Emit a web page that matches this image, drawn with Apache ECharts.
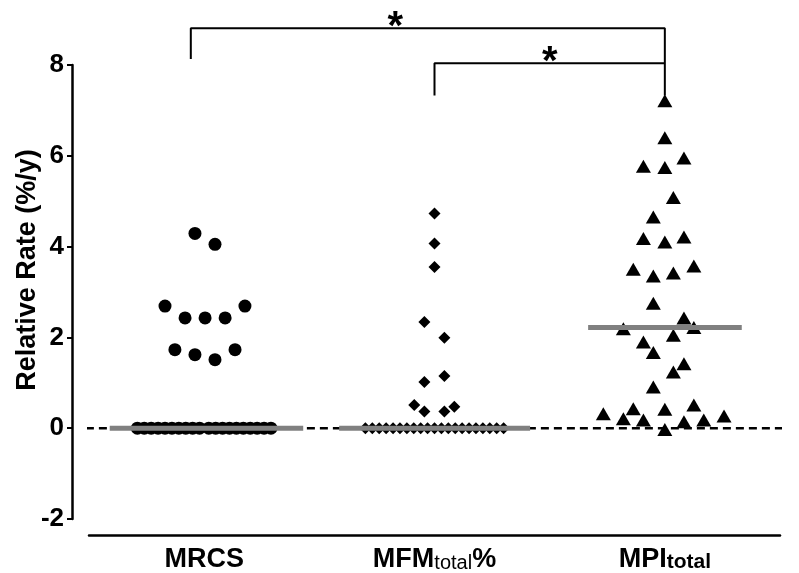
<!DOCTYPE html>
<html>
<head>
<meta charset="utf-8">
<script src="https://cdn.jsdelivr.net/npm/echarts@6/dist/echarts.min.js"></script>
<style>
  html, body { margin: 0; padding: 0; background: #fff; }
  #chart { width: 799px; height: 573px; }
</style>
</head>
<body>
<div id="chart"></div>
<script>
// categories on the x axis (1, 2, 3)
var catMain = ['MRCS', 'MFM', 'MPI'];
var catSub = ['', 'total', 'total'];
var catTail = ['', '%', ''];

// MRCS (circles): x offset from category centre, value
var mrcsDx = [-0.04, 0.047, -0.17, -0.083, 0.004, 0.091, 0.177, -0.127, -0.04, 0.047, 0.134];
var mrcsY = [4.29, 4.05, 2.69, 2.43, 2.43, 2.43, 2.69, 1.73, 1.62, 1.51, 1.73];
// MRCS points sitting on zero
var mrcsZeroDx = [-0.29, -0.26, -0.23, -0.20, -0.17, -0.14, -0.11, -0.08, -0.05, -0.02,
  0.02, 0.05, 0.08, 0.11, 0.14, 0.17, 0.20, 0.23, 0.26, 0.29];

// MFMtotal% (diamonds)
var mfmDx = [0, 0, 0, -0.044, 0.043, -0.044, 0.043, -0.088, -0.044, 0.043, 0.086];
var mfmY = [4.73, 4.07, 3.55, 2.34, 1.99, 1.02, 1.15, 0.51, 0.37, 0.37, 0.47];
var mfmZeroDx = [-0.30, -0.27, -0.24, -0.21, -0.18, -0.15, -0.12, -0.09, -0.06, -0.03, 0,
  0.03, 0.06, 0.09, 0.12, 0.15, 0.18, 0.21, 0.24, 0.27, 0.30];

// MPItotal (triangles)
var mpiDx = [0, 0, -0.093, 0, 0.083, 0.037, -0.05, -0.093, 0, 0.083,
  -0.137, -0.05, 0.037, 0.126, -0.05, 0.083, -0.18, 0.126, 0.037, -0.093,
  -0.05, 0.083, 0.037, -0.05, -0.267, -0.137, 0, 0.126, -0.18, -0.093,
  0.083, 0.169, 0.257, 0];
var mpiY = [7.21, 6.40, 5.77, 5.74, 5.95, 5.08, 4.65, 4.18, 4.10, 4.21,
  3.50, 3.35, 3.42, 3.57, 2.75, 2.43, 2.19, 2.22, 2.05, 1.90,
  1.67, 1.42, 1.24, 0.91, 0.32, 0.43, 0.42, 0.51, 0.21, 0.18,
  0.14, 0.18, 0.27, -0.03];

// median bars (grey)
var medianY = [0, 0, 2.22];
var medianLeft = [-0.41, -0.414, -0.333];
var medianRight = [0.43, 0.415, 0.334];

// dashed reference line at zero
var zeroLineX = [0.43, 3.55];

// significance brackets
var bracket1X = [0.942, 0.942, 3, 3];
var bracket1Y = [8.13, 8.81, 8.81, 7.33];
var bracket2X = [2, 2, 3];
var bracket2Y = [7.33, 8.04, 8.04];
var starX = [1.83, 2.5];
var starY = [8.81, 8.04];

var yTicks = { min: -2, max: 8, step: 2 };

var FONT = 'Liberation Sans';

function pts(cat, dx, ys) {
  return dx.map(function (d, i) { return [cat + d, ys ? ys[i] : 0]; });
}

var dot = { color: '#000', opacity: 1 };
var series = [];

series.push({
  type: 'line', xAxisIndex: 1, clip: false, symbol: 'none', silent: true, z: 1,
  lineStyle: { color: '#000', width: 2.5, type: [8, 5] },
  data: zeroLineX.map(function (x) { return [x, 0]; })
});

series.push({ type: 'scatter', xAxisIndex: 1, symbol: 'circle', symbolSize: 13, z: 2,
  itemStyle: dot, data: pts(1, mrcsDx, mrcsY).concat(pts(1, mrcsZeroDx)) });
series.push({ type: 'scatter', xAxisIndex: 1, symbol: 'diamond', symbolSize: 12, z: 2,
  itemStyle: dot, data: pts(2, mfmDx, mfmY).concat(pts(2, mfmZeroDx)) });
series.push({ type: 'scatter', xAxisIndex: 1, symbol: 'triangle', symbolSize: [15, 13], z: 2,
  itemStyle: dot, data: pts(3, mpiDx, mpiY) });

medianY.forEach(function (m, i) {
  series.push({
    type: 'line', xAxisIndex: 1, clip: false, symbol: 'none', silent: true, z: 3,
    lineStyle: { color: '#808080', width: 5, cap: 'butt' },
    data: [[i + 1 + medianLeft[i], m], [i + 1 + medianRight[i], m]]
  });
});

[[bracket1X, bracket1Y], [bracket2X, bracket2Y]].forEach(function (b) {
  series.push({
    type: 'line', xAxisIndex: 1, clip: false, symbol: 'none', silent: true, z: 3,
    lineStyle: { color: '#000', width: 2 },
    data: b[0].map(function (x, i) { return [x, b[1][i]]; })
  });
});

series.push({
  type: 'scatter', xAxisIndex: 1, clip: false, symbolSize: 0, z: 4,
  itemStyle: dot,
  data: starX.map(function (x, i) { return [x, starY[i]]; }),
  label: {
    show: true, position: 'inside', formatter: '*', offset: [0, 0],
    color: '#000', fontSize: 40, fontWeight: 'bold', fontFamily: FONT
  }
});

var chart = echarts.init(document.getElementById('chart'));
chart.setOption({
  animation: false,
  backgroundColor: '#fff',
  grid: { left: 89, right: 19, top: 65, bottom: 54, outerBoundsMode: 'none', containLabel: false },
  xAxis: [
    {
      type: 'category',
      data: catMain,
      boundaryGap: true,
      offset: 16,
      axisLine: { onZero: false, lineStyle: { color: '#000', width: 2.5 } },
      axisTick: { alignWithLabel: true, length: 4, lineStyle: { color: '#000', width: 2 } },
      splitLine: { show: false },
      axisLabel: {
        margin: 10,
        formatter: function (v, i) {
          var s = '{b|' + catMain[i] + '}';
          if (catSub[i]) s += (i === 2 ? '{sb|' : '{s|') + catSub[i] + '}';
          if (catTail[i]) s += '{b|' + catTail[i] + '}';
          return s;
        },
        rich: {
          b: { fontFamily: FONT, fontSize: 27, fontWeight: 'bold', color: '#000', lineHeight: 28, verticalAlign: 'bottom' },
          s: { fontFamily: FONT, fontSize: 20, fontWeight: 'normal', color: '#000', lineHeight: 21, verticalAlign: 'bottom' },
          sb: { fontFamily: FONT, fontSize: 21, fontWeight: 'bold', color: '#000', lineHeight: 22, verticalAlign: 'bottom' }
        }
      }
    },
    { type: 'value', min: 0.5, max: 3.5, show: false }
  ],
  yAxis: {
    type: 'value',
    min: yTicks.min, max: yTicks.max, interval: yTicks.step,
    offset: 17,
    name: 'Relative Rate (%/y)',
    nameLocation: 'middle',
    nameGap: 31,
    nameMoveOverlap: false,
    nameTextStyle: { fontFamily: FONT, fontSize: 27, fontWeight: 'bold', color: '#000', padding: [0, 0, 0, 44] },
    axisLine: { show: true, lineStyle: { color: '#000', width: 2.5 } },
    axisTick: { show: true, length: 5, lineStyle: { color: '#000', width: 2 } },
    splitLine: { show: false },
    axisLabel: { margin: 8, fontFamily: FONT, fontSize: 26, fontWeight: 'bold', color: '#000' }
  },
  series: series
});
</script>
</body>
</html>
